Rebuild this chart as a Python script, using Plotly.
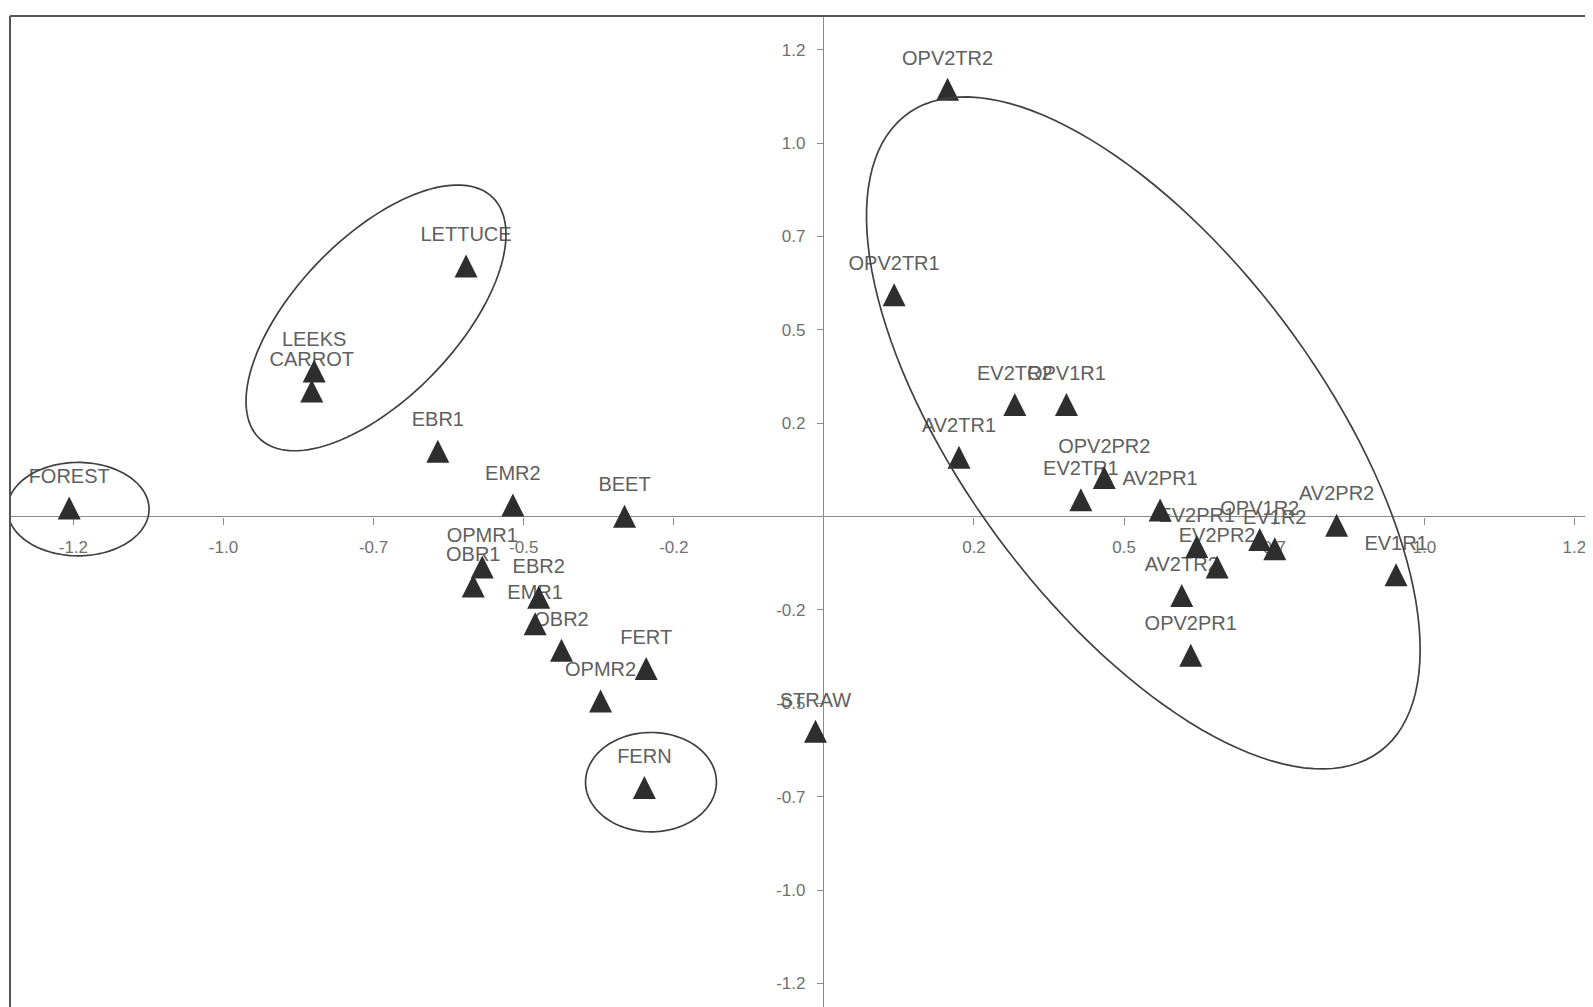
import numpy as np
import plotly.graph_objects as go

# ---------------- data ----------------
labels = ["FOREST", "LETTUCE", "LEEKS", "CARROT", "EBR1", "EMR2", "BEET",
          "OPMR1", "OBR1", "EBR2", "EMR1", "OBR2", "OPMR2", "FERT", "FERN", "STRAW",
          "OPV2TR2", "OPV2TR1", "EV2TR2", "OPV1R1", "AV2TR1", "OPV2PR2", "EV2TR1",
          "AV2PR1", "EV2PR1", "EV2PR2", "AV2TR2", "OPV1R2", "EV1R2", "AV2PR2",
          "EV1R1", "OPV2PR1"]
x_vals = [-1.257, -0.596, -0.849, -0.853, -0.643, -0.518, -0.332,
          -0.569, -0.584, -0.475, -0.481, -0.437, -0.372, -0.296, -0.299, -0.014,
          0.206, 0.117, 0.318, 0.404, 0.225, 0.467, 0.428,
          0.560, 0.621, 0.655, 0.596, 0.726, 0.751, 0.854,
          0.953, 0.611]
y_vals = [0.023, 0.671, 0.390, 0.336, 0.175, 0.031, 0.001,
          -0.135, -0.186, -0.216, -0.287, -0.358, -0.494, -0.407, -0.725, -0.575,
          1.144, 0.594, 0.300, 0.300, 0.159, 0.105, 0.045,
          0.018, -0.080, -0.135, -0.211, -0.061, -0.086, -0.023,
          -0.156, -0.371]

x_tickvals = [-1.25, -1.0, -0.75, -0.5, -0.25, 0.25, 0.5, 0.75, 1.0, 1.25]
x_ticktext = ["-1.2", "-1.0", "-0.7", "-0.5", "-0.2", "0.2", "0.5", "0.7", "1.0", "1.2"]
y_tickvals = [1.25, 1.0, 0.75, 0.5, 0.25, -0.25, -0.5, -0.75, -1.0, -1.25]
y_ticktext = ["1.2", "1.0", "0.7", "0.5", "0.2", "-0.2", "-0.5", "-0.7", "-1.0", "-1.2"]

# group ellipses: centre, first semi-axis vector, second semi-axis vector (data units)
ellipse_forest = [(-1.242, 0.020), (0.118, 0.0), (0.0, 0.125)]
ellipse_veg = [(-0.746, 0.532), (0.194, 0.323), (0.0961, -0.149)]
ellipse_fern = [(-0.288, -0.711), (0.109, 0.0), (0.0, 0.133)]
ellipse_big = [(0.532, 0.224), (0.394, -0.853), (0.2395, 0.286)]

# ---------------- layout geometry ----------------
# the page body has an 8px margin, so the figure starts at (8, 8)
W, H = 1585, 999
ML, MT = 2, 8
x_range = [-1.3556, 1.2810]
y_range = [-1.3130, 1.3403]
PX_PER_Y = (H - MT) / (y_range[1] - y_range[0])
x_axis_pos = (0 - y_range[0]) / (y_range[1] - y_range[0])
y_axis_pos = (0 - x_range[0]) / (x_range[1] - x_range[0])

MARKER_SIZE = 23
# "arrow-up" is anchored at its tip; a twin y axis lifts it so the point sits at the triangle middle
lift = (MARKER_SIZE / 2) / PX_PER_Y
y2_range = [y_range[0] - lift, y_range[1] - lift]

TEXT_COL = "#606060"
MARK_COL = "#2e2e2e"
LINE_COL = "#404040"
FONT = "Liberation Sans, Arial, sans-serif"


def ellipse_path(params, n=140):
    (cx, cy), (ux, uy), (vx, vy) = params
    t = np.linspace(0, 2 * np.pi, n)
    xs = cx + ux * np.cos(t) + vx * np.sin(t)
    ys = cy + uy * np.cos(t) + vy * np.sin(t)
    p = "M {:.5f},{:.5f} ".format(xs[0], ys[0])
    p += " ".join("L {:.5f},{:.5f}".format(a, b) for a, b in zip(xs[1:], ys[1:]))
    return p + " Z"


fig = go.Figure()

# labels (drawn first so triangles overlap them, as in the original)
fig.add_trace(go.Scatter(
    x=x_vals, y=y_vals, mode="markers+text", text=labels,
    textposition="top center",
    textfont=dict(family=FONT, size=20, color=TEXT_COL),
    marker=dict(size=30, color="rgba(0,0,0,0)"),
    hoverinfo="skip", showlegend=False, cliponaxis=False))

# triangles
fig.add_trace(go.Scatter(
    x=x_vals, y=y_vals, mode="markers", yaxis="y2",
    marker=dict(symbol="arrow-up", size=MARKER_SIZE, color=MARK_COL,
                line=dict(width=0)),
    showlegend=False, cliponaxis=False))

shapes = []
for e in (ellipse_forest, ellipse_veg, ellipse_fern, ellipse_big):
    shapes.append(dict(type="path", xref="x", yref="y", path=ellipse_path(e),
                       line=dict(color=LINE_COL, width=1.7), layer="above"))
# frame (top and left borders)
shapes.append(dict(type="line", xref="paper", yref="paper", x0=0, x1=1.01, y0=1, y1=1,
                   line=dict(color="#555555", width=2)))
shapes.append(dict(type="line", xref="paper", yref="paper", x0=0, x1=0, y0=-0.02, y1=1,
                   line=dict(color="#555555", width=2)))

tickfont = dict(family=FONT, size=17, color="#707070")
fig.update_layout(
    width=W, height=H,
    margin=dict(l=ML, r=0, t=MT, b=0, autoexpand=False),
    paper_bgcolor="white", plot_bgcolor="white",
    shapes=shapes,
    xaxis=dict(range=x_range, anchor="free", position=x_axis_pos, automargin=False,
               showgrid=False, zeroline=True, zerolinecolor="#8a8a8a", zerolinewidth=1,
               showline=False, tickmode="array", tickvals=x_tickvals, ticktext=x_ticktext,
               ticks="outside", ticklen=7, tickcolor="#8a8a8a", tickwidth=1,
               ticklabelstandoff=8, layer="below traces", tickfont=tickfont),
    yaxis=dict(range=y_range, anchor="free", position=y_axis_pos, automargin=False,
               showgrid=False, zeroline=True, zerolinecolor="#8a8a8a", zerolinewidth=1,
               showline=False, tickmode="array", tickvals=y_tickvals, ticktext=y_ticktext,
               ticks="outside", ticklen=7, tickcolor="#8a8a8a", tickwidth=1,
               ticklabelstandoff=8, layer="below traces", tickfont=tickfont),
    yaxis2=dict(range=y2_range, overlaying="y", visible=False, automargin=False,
                showgrid=False, zeroline=False),
)

fig.write_html("out.html", config={"displayModeBar": False})
